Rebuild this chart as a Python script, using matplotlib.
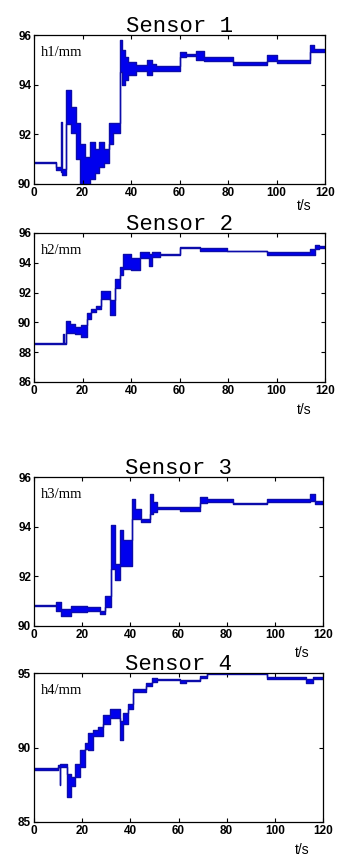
import numpy as np
import matplotlib
matplotlib.use("Agg")
import matplotlib.pyplot as plt

# sensor level traces: step knots (t in s) with lower / upper envelope of the jitter
t1 = [0, 9.2, 11.2, 11.5, 13.2, 15.4, 17.2, 18.8, 20.9, 23.0, 25.0, 27.0, 29.0, 31.0, 32.6,
      35.6, 36.1, 37.5, 38.8, 42.0, 46.4, 48.5, 50.5, 60.1, 62.5, 67.0, 70.0, 82.0, 96.0, 100.0,
      113.8, 115.5, 120]
lo1 = [90.85, 90.55, 90.5, 90.35, 92.4, 92.05, 91.0, 90.0, 90.0, 90.2, 90.45, 90.7, 90.85, 91.6, 92.05,
       94.5, 94.0, 94.2, 94.4, 94.55, 94.4, 94.55, 94.55, 95.1, 95.15, 95.0, 94.95, 94.8, 94.95, 94.88,
       95.3, 95.3, 95.3]
hi1 = [90.9, 90.7, 92.5, 90.6, 93.8, 93.1, 92.45, 91.6, 91.1, 91.7, 91.4, 91.7, 91.4, 92.45, 92.45,
       95.8, 95.4, 95.1, 94.9, 94.8, 95.0, 94.85, 94.75, 95.3, 95.25, 95.35, 95.1, 94.92, 95.2, 95.0,
       95.6, 95.45, 95.45]

t2 = [0, 12.0, 12.3, 13.0, 14.7, 16.8, 19.5, 21.9, 23.7, 25.7, 27.8, 31.2, 33.3, 35.4, 36.7,
      40.0, 43.6, 47.5, 48.5, 51.9, 60.0, 68.4, 79.4, 96.0, 114.0, 116.0, 117.5, 120]
lo2 = [88.55, 88.55, 88.55, 89.3, 89.3, 89.2, 89.0, 90.2, 90.7, 90.9, 91.6, 90.5, 92.3, 93.2, 93.6,
       93.5, 94.3, 93.8, 94.4, 94.55, 94.98, 94.8, 94.78, 94.55, 94.5, 94.9, 95.0, 95.0]
hi2 = [88.65, 89.25, 88.65, 90.1, 89.9, 89.7, 89.8, 90.6, 90.9, 91.1, 92.1, 91.5, 92.9, 93.7, 94.6,
       94.3, 94.7, 94.6, 94.7, 94.6, 95.05, 95.0, 94.82, 94.7, 94.9, 95.2, 95.1, 95.1]

t3 = [0, 9.3, 11.4, 15.5, 21.8, 27.3, 29.4, 31.8, 33.6, 35.6, 37.0, 40.8, 42.0, 44.5, 48.1, 49.5,
      51.0, 60.6, 69.0, 72.0, 82.8, 96.7, 114.7, 116.5, 120]
lo3 = [90.8, 90.6, 90.4, 90.55, 90.6, 90.5, 90.75, 92.3, 91.85, 92.4, 92.4, 94.3, 94.3, 94.2, 94.5, 94.6,
       94.7, 94.65, 94.95, 95.0, 94.9, 95.0, 95.05, 94.9, 94.9]
hi3 = [90.85, 90.95, 90.7, 90.8, 90.75, 90.6, 91.2, 94.05, 92.5, 93.85, 93.45, 95.13, 94.7, 94.3, 95.33, 95.0,
       94.8, 94.8, 95.2, 95.1, 94.95, 95.13, 95.33, 95.05, 95.05]

t4 = [0, 10.0, 10.7, 11.0, 13.5, 15.5, 17.0, 19.0, 21.0, 22.5, 24.5, 26.6, 28.7, 31.5, 35.6,
      37.0, 39.1, 41.2, 46.7, 49.0, 51.0, 60.6, 63.0, 69.0, 71.7, 96.7, 113.0, 116.0, 120]
lo4 = [88.5, 88.7, 87.5, 88.7, 86.7, 87.4, 88.0, 88.7, 89.9, 89.8, 90.8, 90.8, 91.6, 92.0, 90.5,
       91.6, 92.6, 93.75, 94.1, 94.4, 94.5, 94.35, 94.45, 94.65, 94.9, 94.6, 94.3, 94.6, 94.6]
hi4 = [88.6, 88.85, 88.85, 88.9, 88.2, 88.0, 88.9, 89.8, 90.3, 91.0, 91.2, 91.4, 92.2, 92.6, 91.8,
       92.3, 92.9, 93.95, 94.3, 94.65, 94.6, 94.55, 94.5, 94.8, 95.0, 94.7, 94.6, 94.7, 94.7]

titles = ["Sensor 1", "Sensor 2", "Sensor 3", "Sensor 4"]
ylabels = ["h1/mm", "h2/mm", "h3/mm", "h4/mm"]
ylims = [(90, 96), (86, 96), (90, 96), (85, 95)]
ysteps = [2, 2, 2, 5]
xticks = [0, 20, 40, 60, 80, 100, 120]

W, H = 337, 857
# axes boxes in pixels: left, top, right, bottom
boxes = [(34, 35, 325, 184), (34, 233, 325, 382), (34, 477, 323, 626), (34, 673, 323, 822)]
tlab_y = [-0.148, -0.188, -0.18, -0.188]

fig = plt.figure(figsize=(W / 100, H / 100), dpi=100)
tick_font = dict(family=["Liberation Sans Narrow", "Liberation Sans"], weight="bold", size=8.5)

data = [(t1, lo1, hi1), (t2, lo2, hi2), (t3, lo3, hi3), (t4, lo4, hi4)]
for i, (t, lo, hi) in enumerate(data):
    l, tp, r, b = boxes[i]
    ax = fig.add_axes([l / W, 1 - b / H, (r - l) / W, (b - tp) / H])
    ax.fill_between(t, lo, hi, step="post", color="#0000ee", lw=0)
    ax.step(t, lo, where="post", color="#0c0caa", lw=1.0)
    ax.step(t, hi, where="post", color="#0c0caa", lw=1.0)
    ax.set_xlim(0, 120)
    ax.set_ylim(*ylims[i])
    ax.set_xticks(xticks)
    ax.set_yticks(np.arange(ylims[i][0], ylims[i][1] + 0.1, ysteps[i]))
    ax.tick_params(direction="in", length=3, width=0.8, top=True, right=True, pad=2)
    for lab in ax.get_xticklabels() + ax.get_yticklabels():
        lab.set_fontproperties(matplotlib.font_manager.FontProperties(**tick_font))
    for s in ax.spines.values():
        s.set_linewidth(0.9)
    ax.set_title(titles[i], family="Liberation Mono", fontsize=16, pad=2)
    ax.text(0.025, 0.885, ylabels[i], transform=ax.transAxes, family="Liberation Serif",
            fontsize=10.5, ha="left", va="center")
    ax.text(0.928, tlab_y[i], "t/s", transform=ax.transAxes, family="Liberation Sans",
            fontsize=10, ha="center", va="center")

fig.savefig("out.png", dpi=100)
